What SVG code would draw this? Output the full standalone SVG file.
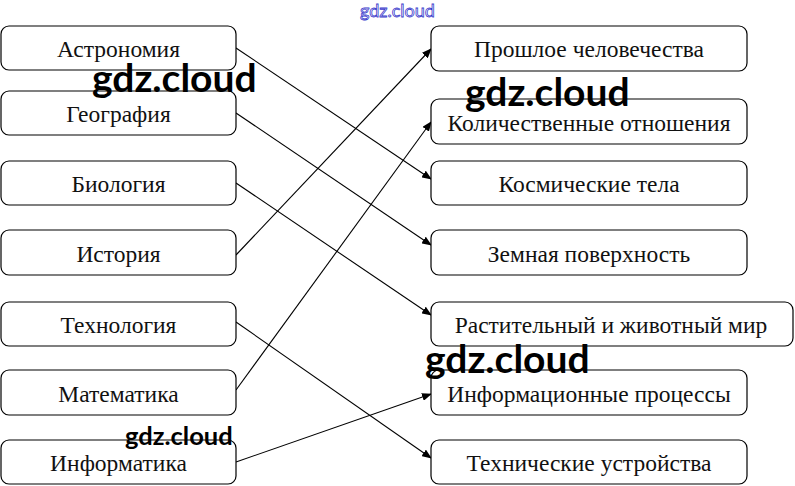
<svg xmlns="http://www.w3.org/2000/svg" width="795" height="486" viewBox="0 0 795 486">
<style>
.box{fill:#fff;stroke:#000;stroke-width:1.2}
.t{font-family:"Liberation Serif","Times New Roman",serif;font-size:23.5px;fill:#111;text-anchor:middle}
.c{stroke:#000;stroke-width:1.1;fill:none;marker-end:url(#ah)}
.wm{font-family:Lato,"Noto Sans",sans-serif;font-weight:700;fill:#000}
</style>
<defs>
<marker id="ah" markerWidth="10" markerHeight="8" refX="9" refY="4" orient="auto" markerUnits="userSpaceOnUse">
<path d="M0,0 L10,4 L0,8 Z" fill="#000"/>
</marker>
</defs>
<rect width="795" height="486" fill="#fff"/>
<g id="connectors">
<line class="c" x1="236" y1="48" x2="431" y2="179"/>
<line class="c" x1="236" y1="113" x2="431" y2="245"/>
<line class="c" x1="236" y1="183" x2="431" y2="315"/>
<line class="c" x1="236" y1="255" x2="431" y2="49"/>
<line class="c" x1="236" y1="322" x2="431" y2="458"/>
<line class="c" x1="236" y1="390" x2="431" y2="122"/>
<line class="c" x1="236" y1="462" x2="431" y2="394"/>
</g>
<g id="astronomy"><rect class="box" x="1" y="26" width="235" height="44" rx="8"/><text class="t" x="118.5" y="57">Астрономия</text></g>
<g id="geography"><rect class="box" x="1" y="91" width="235" height="44" rx="8"/><text class="t" x="118.5" y="122">География</text></g>
<g id="biology"><rect class="box" x="1" y="161" width="235" height="44" rx="8"/><text class="t" x="118.5" y="192">Биология</text></g>
<g id="history"><rect class="box" x="1" y="230" width="235" height="45" rx="8"/><text class="t" x="118.5" y="262">История</text></g>
<g id="technology"><rect class="box" x="1" y="302" width="235" height="44" rx="8"/><text class="t" x="118.5" y="333">Технология</text></g>
<g id="math"><rect class="box" x="1" y="370" width="235" height="45" rx="8"/><text class="t" x="118.5" y="402">Математика</text></g>
<g id="informatics"><rect class="box" x="1" y="440" width="235" height="44" rx="8"/><text class="t" x="118.5" y="471">Информатика</text></g>
<g id="past"><rect class="box" x="431" y="26" width="316" height="45" rx="8"/><text class="t" x="589" y="57">Прошлое человечества</text></g>
<g id="quantity"><rect class="box" x="431" y="99" width="316" height="45" rx="8"/><text class="t" x="589" y="131">Количественные отношения</text></g>
<g id="cosmic"><rect class="box" x="431" y="161" width="316" height="44" rx="8"/><text class="t" x="589" y="192">Космические тела</text></g>
<g id="earth"><rect class="box" x="431" y="230" width="316" height="45" rx="8"/><text class="t" x="589" y="262">Земная поверхность</text></g>
<g id="life"><rect class="box" x="431" y="302" width="362" height="44" rx="8"/><text class="t" x="611" y="333">Растительный и животный мир</text></g>
<g id="info"><rect class="box" x="431" y="370" width="316" height="45" rx="8"/><text class="t" x="589" y="402">Информационные процессы</text></g>
<g id="devices"><rect class="box" x="431" y="440" width="316" height="44" rx="8"/><text class="t" x="589" y="471">Технические устройства</text></g>
<g id="watermarks">
<text x="360" y="17" font-family="Lato,sans-serif" font-size="18" fill="#fff" stroke="#3a3acc" stroke-width="0.8">gdz.cloud</text>
<text class="wm" x="92" y="92" font-size="39">gdz.cloud</text>
<text class="wm" x="465" y="106" font-size="39">gdz.cloud</text>
<text class="wm" x="425" y="373" font-size="39">gdz.cloud</text>
<text class="wm" x="125" y="445" font-size="25.5">gdz.cloud</text>
</g>
</svg>
